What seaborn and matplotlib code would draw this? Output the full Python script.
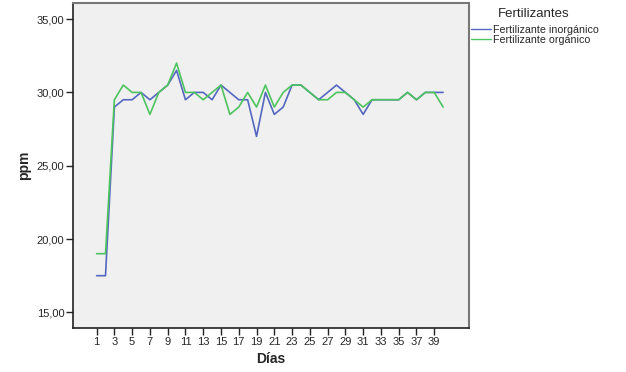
import numpy as np
import pandas as pd
import seaborn as sns
import matplotlib.pyplot as plt
from matplotlib.ticker import FuncFormatter

# datos (ppm por dia)
dias = list(range(1, 41))
inorganico = [17.5, 17.5, 29.0, 29.5, 29.5, 30.0, 29.5, 30.0, 30.5, 31.5,
              29.5, 30.0, 30.0, 29.5, 30.5, 30.0, 29.5, 29.5, 27.0, 30.0,
              28.5, 29.0, 30.5, 30.5, 30.0, 29.5, 30.0, 30.5, 30.0, 29.5,
              28.5, 29.5, 29.5, 29.5, 29.5, 30.0, 29.5, 30.0, 30.0, 30.0]
organico = [19.0, 19.0, 29.5, 30.5, 30.0, 30.0, 28.5, 30.0, 30.5, 32.0,
            30.0, 30.0, 29.5, 30.0, 30.5, 28.5, 29.0, 30.0, 29.0, 30.5,
            29.0, 30.0, 30.5, 30.5, 30.0, 29.5, 29.5, 30.0, 30.0, 29.5,
            29.0, 29.5, 29.5, 29.5, 29.5, 30.0, 29.5, 30.0, 30.0, 29.0]
series = ['Fertilizante inorgánico', 'Fertilizante orgánico']
y_ticks = [15, 20, 25, 30, 35]
x_ticks = list(range(1, 40, 2))

df = pd.DataFrame({
    'Días': dias * 2,
    'ppm': inorganico + organico,
    'Fertilizantes': [series[0]] * len(dias) + [series[1]] * len(dias),
})

sns.set_style('ticks', {'axes.facecolor': '#f0f0f0'})
plt.rcParams['font.family'] = ['Liberation Sans', 'DejaVu Sans']

fig = plt.figure(figsize=(6.26, 3.72), dpi=100)
ax = fig.add_axes([0.116, 0.117, 0.633, 0.875])

palette = {series[0]: '#5468c0', series[1]: '#4ec45e'}
sns.lineplot(data=df, x='Días', y='ppm', hue='Fertilizantes', palette=palette,
             linewidth=1.2, ax=ax)

ax.set_xlim(-1.7, 42.9)
ax.set_ylim(13.9, 36.1)
ax.set_xticks(x_ticks)
ax.set_yticks(y_ticks)
ax.yaxis.set_major_formatter(FuncFormatter(lambda v, p: f'{v:.2f}'.replace('.', ',')))
ax.tick_params(axis='both', labelsize=8, length=5, width=1, color='#222222')
ax.tick_params(axis='x', pad=1)
ax.tick_params(axis='y', pad=1)

ax.set_xlabel('Días', fontsize=10, fontweight='bold', labelpad=4)
ax.set_ylabel('ppm', fontsize=10, fontweight='bold', labelpad=4)

for side in ['left', 'bottom']:
    ax.spines[side].set_color('#222222')
    ax.spines[side].set_linewidth(1.2)
for side in ['top', 'right']:
    ax.spines[side].set_visible(True)
    ax.spines[side].set_color('#777777')
    ax.spines[side].set_linewidth(1.5)

# titulo de la leyenda aparte, como en el original
fig.text(534 / 626, 1 - 14 / 372, 'Fertilizantes', ha='center', va='center', fontsize=9.5)
leg = ax.legend(loc='upper left', bbox_to_anchor=(471 / 626, 1 - 25 / 372),
                bbox_transform=fig.transFigure, frameon=False, fontsize=7.7,
                handlelength=1.9, handletextpad=0.15,
                borderpad=0, labelspacing=0.0, borderaxespad=0)
for line in leg.get_lines():
    line.set_linewidth(1.0)

fig.savefig('out.png', dpi=100)
